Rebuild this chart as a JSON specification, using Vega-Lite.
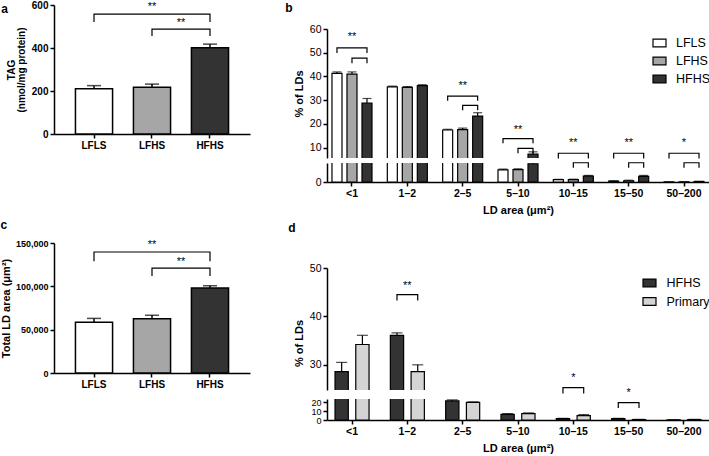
{
 "$schema": "https://vega.github.io/schema/vega-lite/v6.json",
 "padding": {"left": 0, "top": 0, "right": 0, "bottom": 0},
 "config": {
  "font": "Liberation Sans",
  "view": {"stroke": null},
  "axis": {"domainColor": "#000", "domainWidth": 1.5, "tickColor": "#000", "tickWidth": 1.5, "tickSize": 4, "labelColor": "#000", "titleColor": "#000", "grid": false, "labelPadding": 2, "labelOverlap": false},
  "title": {"color": "#000"},
  "legend": {"labelColor": "#000"}
 },
 "datasets": {
  "a": [{"g": "LFLS", "v": 211, "hi": 225}, {"g": "LFHS", "v": 217, "hi": 232}, {"g": "HFHS", "v": 401, "hi": 418}],
  "a_br": [
   {"id": 1, "o": 1, "g": "LFLS", "v": 521}, {"id": 1, "o": 2, "g": "LFLS", "v": 558}, {"id": 1, "o": 3, "g": "HFHS", "v": 558}, {"id": 1, "o": 4, "g": "HFHS", "v": 521},
   {"id": 2, "o": 1, "g": "LFHS", "v": 456}, {"id": 2, "o": 2, "g": "LFHS", "v": 488}, {"id": 2, "o": 3, "g": "HFHS", "v": 488}, {"id": 2, "o": 4, "g": "HFHS", "v": 456}
  ],
  "a_st1": [{"g": "LFHS", "v": 590, "t": "**"}],
  "a_st2": [{"g": "HFHS", "v": 517, "t": "**"}],
  "c": [{"g": "LFLS", "v": 58500, "hi": 63000}, {"g": "LFHS", "v": 62700, "hi": 66600}, {"g": "HFHS", "v": 98000, "hi": 100700}],
  "c_br": [
   {"id": 1, "o": 1, "g": "LFLS", "v": 129000}, {"id": 1, "o": 2, "g": "LFLS", "v": 139600}, {"id": 1, "o": 3, "g": "HFHS", "v": 139600}, {"id": 1, "o": 4, "g": "HFHS", "v": 129000},
   {"id": 2, "o": 1, "g": "LFHS", "v": 112000}, {"id": 2, "o": 2, "g": "LFHS", "v": 121000}, {"id": 2, "o": 3, "g": "HFHS", "v": 121000}, {"id": 2, "o": 4, "g": "HFHS", "v": 112000}
  ],
  "c_st1": [{"g": "LFHS", "v": 147500, "t": "**"}],
  "c_st2": [{"g": "HFHS", "v": 128500, "t": "**"}],
  "b": [
   {"cat": "<1", "grp": "LFLS", "v": 41.3, "hi": 41.9}, {"cat": "<1", "grp": "LFHS", "v": 41.0, "hi": 41.9}, {"cat": "<1", "grp": "HFHS", "v": 28.8, "hi": 30.7},
   {"cat": "1–2", "grp": "LFLS", "v": 35.6, "hi": 35.9}, {"cat": "1–2", "grp": "LFHS", "v": 35.4, "hi": 35.7}, {"cat": "1–2", "grp": "HFHS", "v": 36.1, "hi": 36.5},
   {"cat": "2–5", "grp": "LFLS", "v": 17.4, "hi": 17.7}, {"cat": "2–5", "grp": "LFHS", "v": 17.6, "hi": 18.2}, {"cat": "2–5", "grp": "HFHS", "v": 23.3, "hi": 24.7},
   {"cat": "5–10", "grp": "LFLS", "v": 4.8, "hi": 5.1}, {"cat": "5–10", "grp": "LFHS", "v": 4.9, "hi": 5.2}, {"cat": "5–10", "grp": "HFHS", "v": 7.2, "hi": 8.2},
   {"cat": "10–15", "grp": "LFLS", "v": 0.9, "hi": 1.05}, {"cat": "10–15", "grp": "LFHS", "v": 0.9, "hi": 1.1}, {"cat": "10–15", "grp": "HFHS", "v": 2.3, "hi": 2.6},
   {"cat": "15–50", "grp": "LFLS", "v": 0.35, "hi": 0.45}, {"cat": "15–50", "grp": "LFHS", "v": 0.5, "hi": 0.7}, {"cat": "15–50", "grp": "HFHS", "v": 2.2, "hi": 2.6},
   {"cat": "50–200", "grp": "LFLS", "v": 0.02, "hi": 0.03}, {"cat": "50–200", "grp": "LFHS", "v": 0.03, "hi": 0.04}, {"cat": "50–200", "grp": "HFHS", "v": 0.2, "hi": 0.25}
  ],
  "b_br": [
   {"id": 1, "o": 1, "cat": "<1", "grp": "LFLS", "v": 49.9}, {"id": 1, "o": 2, "cat": "<1", "grp": "LFLS", "v": 52.0}, {"id": 1, "o": 3, "cat": "<1", "grp": "HFHS", "v": 52.0}, {"id": 1, "o": 4, "cat": "<1", "grp": "HFHS", "v": 49.9},
   {"id": 2, "o": 1, "cat": "<1", "grp": "LFHS", "v": 45.6}, {"id": 2, "o": 2, "cat": "<1", "grp": "LFHS", "v": 47.7}, {"id": 2, "o": 3, "cat": "<1", "grp": "HFHS", "v": 47.7}, {"id": 2, "o": 4, "cat": "<1", "grp": "HFHS", "v": 45.6},
   {"id": 3, "o": 1, "cat": "2–5", "grp": "LFLS", "v": 29.7}, {"id": 3, "o": 2, "cat": "2–5", "grp": "LFLS", "v": 31.7}, {"id": 3, "o": 3, "cat": "2–5", "grp": "HFHS", "v": 31.7}, {"id": 3, "o": 4, "cat": "2–5", "grp": "HFHS", "v": 29.7},
   {"id": 4, "o": 1, "cat": "2–5", "grp": "LFHS", "v": 25.7}, {"id": 4, "o": 2, "cat": "2–5", "grp": "LFHS", "v": 27.8}, {"id": 4, "o": 3, "cat": "2–5", "grp": "HFHS", "v": 27.8}, {"id": 4, "o": 4, "cat": "2–5", "grp": "HFHS", "v": 25.7},
   {"id": 5, "o": 1, "cat": "5–10", "grp": "LFLS", "v": 11.8}, {"id": 5, "o": 2, "cat": "5–10", "grp": "LFLS", "v": 13.8}, {"id": 5, "o": 3, "cat": "5–10", "grp": "HFHS", "v": 13.8}, {"id": 5, "o": 4, "cat": "5–10", "grp": "HFHS", "v": 11.8},
   {"id": 6, "o": 1, "cat": "5–10", "grp": "LFHS", "v": 7.6}, {"id": 6, "o": 2, "cat": "5–10", "grp": "LFHS", "v": 9.7}, {"id": 6, "o": 3, "cat": "5–10", "grp": "HFHS", "v": 9.7}, {"id": 6, "o": 4, "cat": "5–10", "grp": "HFHS", "v": 7.6},
   {"id": 7, "o": 1, "cat": "10–15", "grp": "LFLS", "v": 5.4}, {"id": 7, "o": 2, "cat": "10–15", "grp": "LFLS", "v": 7.6}, {"id": 7, "o": 3, "cat": "10–15", "grp": "HFHS", "v": 7.6}, {"id": 7, "o": 4, "cat": "10–15", "grp": "HFHS", "v": 5.4},
   {"id": 8, "o": 1, "cat": "10–15", "grp": "LFHS", "v": 1.5}, {"id": 8, "o": 2, "cat": "10–15", "grp": "LFHS", "v": 3.6}, {"id": 8, "o": 3, "cat": "10–15", "grp": "HFHS", "v": 3.6}, {"id": 8, "o": 4, "cat": "10–15", "grp": "HFHS", "v": 1.5},
   {"id": 9, "o": 1, "cat": "15–50", "grp": "LFLS", "v": 5.4}, {"id": 9, "o": 2, "cat": "15–50", "grp": "LFLS", "v": 7.6}, {"id": 9, "o": 3, "cat": "15–50", "grp": "HFHS", "v": 7.6}, {"id": 9, "o": 4, "cat": "15–50", "grp": "HFHS", "v": 5.4},
   {"id": 10, "o": 1, "cat": "15–50", "grp": "LFHS", "v": 1.5}, {"id": 10, "o": 2, "cat": "15–50", "grp": "LFHS", "v": 3.6}, {"id": 10, "o": 3, "cat": "15–50", "grp": "HFHS", "v": 3.6}, {"id": 10, "o": 4, "cat": "15–50", "grp": "HFHS", "v": 1.5},
   {"id": 11, "o": 1, "cat": "50–200", "grp": "LFLS", "v": 5.4}, {"id": 11, "o": 2, "cat": "50–200", "grp": "LFLS", "v": 7.6}, {"id": 11, "o": 3, "cat": "50–200", "grp": "HFHS", "v": 7.6}, {"id": 11, "o": 4, "cat": "50–200", "grp": "HFHS", "v": 5.4},
   {"id": 12, "o": 1, "cat": "50–200", "grp": "LFHS", "v": 1.5}, {"id": 12, "o": 2, "cat": "50–200", "grp": "LFHS", "v": 3.6}, {"id": 12, "o": 3, "cat": "50–200", "grp": "HFHS", "v": 3.6}, {"id": 12, "o": 4, "cat": "50–200", "grp": "HFHS", "v": 1.5}
  ],
  "b_st": [
   {"cat": "<1", "v": 56.5, "t": "**"}, {"cat": "2–5", "v": 36.1, "t": "**"}, {"cat": "5–10", "v": 17.6, "t": "**"},
   {"cat": "10–15", "v": 11.9, "t": "**"}, {"cat": "15–50", "v": 11.9, "t": "**"}, {"cat": "50–200", "v": 11.9, "t": "*"}
  ],
  "d": [
   {"cat": "<1", "grp": "HFHS", "v": 28.6, "hi": 30.5}, {"cat": "<1", "grp": "Primary", "v": 34.2, "hi": 36.1},
   {"cat": "1–2", "grp": "HFHS", "v": 36.1, "hi": 36.6}, {"cat": "1–2", "grp": "Primary", "v": 28.6, "hi": 30.0},
   {"cat": "2–5", "grp": "HFHS", "v": 21.8, "hi": 23.0}, {"cat": "2–5", "grp": "Primary", "v": 20.2, "hi": 20.7},
   {"cat": "5–10", "grp": "HFHS", "v": 6.5, "hi": 7.3}, {"cat": "5–10", "grp": "Primary", "v": 7.2, "hi": 8.1},
   {"cat": "10–15", "grp": "HFHS", "v": 1.5, "hi": 1.9}, {"cat": "10–15", "grp": "Primary", "v": 5.0, "hi": 6.2},
   {"cat": "15–50", "grp": "HFHS", "v": 1.5, "hi": 1.9}, {"cat": "15–50", "grp": "Primary", "v": 0.5, "hi": 0.7},
   {"cat": "50–200", "grp": "HFHS", "v": 0.1, "hi": 0.15}, {"cat": "50–200", "grp": "Primary", "v": 0.5, "hi": 0.7}
  ],
  "d_br": [
   {"id": 1, "o": 1, "cat": "1–2", "grp": "HFHS", "v": 43.3}, {"id": 1, "o": 2, "cat": "1–2", "grp": "HFHS", "v": 44.5}, {"id": 1, "o": 3, "cat": "1–2", "grp": "Primary", "v": 44.5}, {"id": 1, "o": 4, "cat": "1–2", "grp": "Primary", "v": 43.3},
   {"id": 2, "o": 1, "cat": "10–15", "grp": "HFHS", "v": 24.1}, {"id": 2, "o": 2, "cat": "10–15", "grp": "HFHS", "v": 25.3}, {"id": 2, "o": 3, "cat": "10–15", "grp": "Primary", "v": 25.3}, {"id": 2, "o": 4, "cat": "10–15", "grp": "Primary", "v": 24.1},
   {"id": 3, "o": 1, "cat": "15–50", "grp": "HFHS", "v": 21.1}, {"id": 3, "o": 2, "cat": "15–50", "grp": "HFHS", "v": 22.2}, {"id": 3, "o": 3, "cat": "15–50", "grp": "Primary", "v": 22.2}, {"id": 3, "o": 4, "cat": "15–50", "grp": "Primary", "v": 21.1}
  ],
  "d_st": [{"cat": "1–2", "v": 46.2, "t": "**"}, {"cat": "10–15", "v": 27.3, "t": "*"}, {"cat": "15–50", "v": 24.1, "t": "*"}],
  "spacer": [{"k": 1}]
 },
 "resolve": {"scale": {"fill": "independent", "xOffset": "independent"}, "legend": {"fill": "independent"}},
 "spacing": 35,
 "hconcat": [
  {
   "spacing": 69,
   "resolve": {"scale": {"fill": "independent", "xOffset": "independent"}, "legend": {"fill": "independent"}},
   "vconcat": [
    {
     "title": {"text": "a", "anchor": "start", "frame": "bounds", "offset": 0, "dx": -5, "dy": 16, "fontSize": 12, "fontWeight": "bold"},
     "width": 196, "height": 129,
     "layer": [
      {"data": {"name": "a"}, "mark": {"type": "bar", "stroke": "#000", "strokeWidth": 1.5},
       "encoding": {
        "x": {"field": "g", "type": "nominal", "sort": null, "scale": {"domain": ["LFLS", "LFHS", "HFHS"], "paddingInner": 0.36, "paddingOuter": 0.37}, "axis": {"title": null, "labelAngle": 0, "labelFontWeight": "bold", "labelFontSize": 10}},
        "y": {"field": "v", "type": "quantitative", "scale": {"domain": [0, 600], "nice": false}, "axis": {"values": [0, 200, 400, 600], "title": ["TAG", "(nmol/mg protein)"], "labelFontWeight": "bold", "labelFontSize": 10, "titleFontSize": 10, "titleFontWeight": "bold", "titleLineHeight": 10, "titlePadding": 5}},
        "fill": {"field": "g", "type": "nominal", "scale": {"domain": ["LFLS", "LFHS", "HFHS"], "range": ["#ffffff", "#a6a6a6", "#333333"]}, "legend": null}
       }},
      {"data": {"name": "a"}, "mark": {"type": "rule", "color": "#000", "strokeWidth": 1.5},
       "encoding": {"x": {"field": "g", "type": "nominal", "sort": null}, "y": {"field": "v", "type": "quantitative", "axis": {"values": [0, 200, 400, 600], "title": ["TAG", "(nmol/mg protein)"], "labelFontWeight": "bold", "labelFontSize": 10, "titleFontSize": 10, "titleFontWeight": "bold", "titleLineHeight": 10, "titlePadding": 5}}, "y2": {"field": "hi"}}},
      {"data": {"name": "a"}, "mark": {"type": "tick", "color": "#000", "size": 14, "thickness": 1.5},
       "encoding": {"x": {"field": "g", "type": "nominal", "sort": null}, "y": {"field": "hi", "type": "quantitative", "axis": {"values": [0, 200, 400, 600], "title": ["TAG", "(nmol/mg protein)"], "labelFontWeight": "bold", "labelFontSize": 10, "titleFontSize": 10, "titleFontWeight": "bold", "titleLineHeight": 10, "titlePadding": 5}}}},
      {"data": {"name": "a_br"}, "mark": {"type": "line", "color": "#000", "strokeWidth": 1.2},
       "encoding": {"x": {"field": "g", "type": "nominal", "sort": null}, "y": {"field": "v", "type": "quantitative", "axis": {"values": [0, 200, 400, 600], "title": ["TAG", "(nmol/mg protein)"], "labelFontWeight": "bold", "labelFontSize": 10, "titleFontSize": 10, "titleFontWeight": "bold", "titleLineHeight": 10, "titlePadding": 5}}, "detail": {"field": "id"}, "order": {"field": "o"}}},
      {"data": {"name": "a_st1"}, "mark": {"type": "text", "fill": "#000", "fontSize": 11, "baseline": "middle"},
       "encoding": {"x": {"field": "g", "type": "nominal", "sort": null}, "y": {"field": "v", "type": "quantitative"}, "text": {"field": "t"}}},
      {"data": {"name": "a_st2"}, "mark": {"type": "text", "fill": "#000", "fontSize": 11, "baseline": "middle", "dx": -29},
       "encoding": {"x": {"field": "g", "type": "nominal", "sort": null}, "y": {"field": "v", "type": "quantitative"}, "text": {"field": "t"}}}
     ]
    },
    {
     "title": {"text": "c", "anchor": "start", "frame": "bounds", "offset": 7, "dx": 0, "fontSize": 12, "fontWeight": "bold"},
     "width": 196, "height": 130,
     "layer": [
      {"data": {"name": "c"}, "mark": {"type": "bar", "stroke": "#000", "strokeWidth": 1.5},
       "encoding": {
        "x": {"field": "g", "type": "nominal", "sort": null, "scale": {"domain": ["LFLS", "LFHS", "HFHS"], "paddingInner": 0.36, "paddingOuter": 0.37}, "axis": {"title": null, "labelAngle": 0, "labelFontWeight": "bold", "labelFontSize": 10}},
        "y": {"field": "v", "type": "quantitative", "scale": {"domain": [0, 150000], "nice": false}, "axis": {"values": [0, 50000, 100000, 150000], "labelExpr": "format(datum.value, ',')", "title": "Total LD area (μm²)", "labelFontWeight": "bold", "labelFontSize": 9, "titleFontSize": 11, "titleFontWeight": "bold", "titlePadding": 4}},
        "fill": {"field": "g", "type": "nominal", "scale": {"domain": ["LFLS", "LFHS", "HFHS"], "range": ["#ffffff", "#a6a6a6", "#333333"]}, "legend": null}
       }},
      {"data": {"name": "c"}, "mark": {"type": "rule", "color": "#000", "strokeWidth": 1.5},
       "encoding": {"x": {"field": "g", "type": "nominal", "sort": null}, "y": {"field": "v", "type": "quantitative", "axis": {"values": [0, 50000, 100000, 150000], "labelExpr": "format(datum.value, ',')", "title": "Total LD area (μm²)", "labelFontWeight": "bold", "labelFontSize": 9, "titleFontSize": 11, "titleFontWeight": "bold", "titlePadding": 4}}, "y2": {"field": "hi"}}},
      {"data": {"name": "c"}, "mark": {"type": "tick", "color": "#000", "size": 14, "thickness": 1.5},
       "encoding": {"x": {"field": "g", "type": "nominal", "sort": null}, "y": {"field": "hi", "type": "quantitative", "axis": {"values": [0, 50000, 100000, 150000], "labelExpr": "format(datum.value, ',')", "title": "Total LD area (μm²)", "labelFontWeight": "bold", "labelFontSize": 9, "titleFontSize": 11, "titleFontWeight": "bold", "titlePadding": 4}}}},
      {"data": {"name": "c_br"}, "mark": {"type": "line", "color": "#000", "strokeWidth": 1.2},
       "encoding": {"x": {"field": "g", "type": "nominal", "sort": null}, "y": {"field": "v", "type": "quantitative", "axis": {"values": [0, 50000, 100000, 150000], "labelExpr": "format(datum.value, ',')", "title": "Total LD area (μm²)", "labelFontWeight": "bold", "labelFontSize": 9, "titleFontSize": 11, "titleFontWeight": "bold", "titlePadding": 4}}, "detail": {"field": "id"}, "order": {"field": "o"}}},
      {"data": {"name": "c_st1"}, "mark": {"type": "text", "fill": "#000", "fontSize": 11, "baseline": "middle"},
       "encoding": {"x": {"field": "g", "type": "nominal", "sort": null}, "y": {"field": "v", "type": "quantitative", "axis": {"values": [0, 50000, 100000, 150000], "labelExpr": "format(datum.value, ',')", "title": "Total LD area (μm²)", "labelFontWeight": "bold", "labelFontSize": 9, "titleFontSize": 11, "titleFontWeight": "bold", "titlePadding": 4}}, "text": {"field": "t"}}},
      {"data": {"name": "c_st2"}, "mark": {"type": "text", "fill": "#000", "fontSize": 11, "baseline": "middle", "dx": -29},
       "encoding": {"x": {"field": "g", "type": "nominal", "sort": null}, "y": {"field": "v", "type": "quantitative", "axis": {"values": [0, 50000, 100000, 150000], "labelExpr": "format(datum.value, ',')", "title": "Total LD area (μm²)", "labelFontWeight": "bold", "labelFontSize": 9, "titleFontSize": 11, "titleFontWeight": "bold", "titlePadding": 4}}, "text": {"field": "t"}}}
     ]
    }
   ]
  },
  {
   "spacing": 6,
   "resolve": {"scale": {"fill": "independent", "xOffset": "independent"}, "legend": {"fill": "independent"}},
   "vconcat": [
    {
     "title": {"text": "b", "anchor": "start", "frame": "bounds", "offset": 0, "dx": -8, "dy": 10, "fontSize": 12, "fontWeight": "bold"},
     "bounds": "flush",
     "spacing": 5,
     "resolve": {"scale": {"fill": "independent", "xOffset": "independent"}, "legend": {"fill": "independent"}},
     "vconcat": [
      {"width": 382, "height": 19, "data": {"name": "spacer"}, "mark": {"type": "point", "opacity": 0}},
      {
       "width": 382, "height": 129,
       "layer": [
        {"data": {"name": "b"}, "mark": {"type": "bar", "clip": true, "stroke": "#000", "strokeWidth": 1.2},
         "encoding": {
          "x": {"field": "cat", "type": "nominal", "sort": null, "scale": {"domain": ["<1", "1–2", "2–5", "5–10", "10–15", "15–50", "50–200"], "paddingInner": 0.277, "paddingOuter": 0.09}, "axis": null},
          "xOffset": {"field": "grp", "type": "nominal", "sort": null, "scale": {"domain": ["LFLS", "LFHS", "HFHS"], "paddingInner": 0.333, "paddingOuter": 0}},
          "y": {"field": "v", "type": "quantitative", "scale": {"domain": [5.6, 60], "nice": false, "zero": false}, "axis": {"values": [10, 20, 30, 40, 50, 60], "title": "% of LDs", "labelFontSize": 10.5, "titleFontSize": 11, "titleFontWeight": "bold", "titlePadding": 5}},
          "y2": {"datum": 0},
          "fill": {"field": "grp", "type": "nominal", "scale": {"domain": ["LFLS", "LFHS", "HFHS"], "range": ["#ffffff", "#a6a6a6", "#333333"]},
           "legend": {"title": null, "orient": "none", "legendX": 325, "legendY": 6.5, "padding": 0, "symbolType": "M-1,-0.6H1V0.6H-1Z", "symbolSize": 169, "symbolStrokeColor": "#000", "symbolStrokeWidth": 1.2, "labelFontSize": 12.5, "labelOffset": 9, "rowPadding": 4}}
         }},
        {"data": {"name": "b"}, "mark": {"type": "rule", "clip": true, "color": "#000", "strokeWidth": 1.2},
         "encoding": {"x": {"field": "cat", "type": "nominal", "sort": null}, "xOffset": {"field": "grp", "type": "nominal", "sort": null}, "y": {"field": "v", "type": "quantitative", "axis": {"values": [10, 20, 30, 40, 50, 60], "title": "% of LDs", "labelFontSize": 10.5, "titleFontSize": 11, "titleFontWeight": "bold", "titlePadding": 5}}, "y2": {"field": "hi"}}},
        {"data": {"name": "b"}, "mark": {"type": "tick", "clip": true, "color": "#000", "size": 9, "thickness": 1.2},
         "encoding": {"x": {"field": "cat", "type": "nominal", "sort": null}, "xOffset": {"field": "grp", "type": "nominal", "sort": null}, "y": {"field": "hi", "type": "quantitative", "axis": {"values": [10, 20, 30, 40, 50, 60], "title": "% of LDs", "labelFontSize": 10.5, "titleFontSize": 11, "titleFontWeight": "bold", "titlePadding": 5}}}},
        {"data": {"name": "b_br"}, "mark": {"type": "line", "color": "#000", "strokeWidth": 1.2},
         "encoding": {"x": {"field": "cat", "type": "nominal", "sort": null}, "xOffset": {"field": "grp", "type": "nominal", "sort": null}, "y": {"field": "v", "type": "quantitative", "axis": {"values": [10, 20, 30, 40, 50, 60], "title": "% of LDs", "labelFontSize": 10.5, "titleFontSize": 11, "titleFontWeight": "bold", "titlePadding": 5}}, "detail": {"field": "id"}, "order": {"field": "o"}}},
        {"data": {"name": "b_st"}, "mark": {"type": "text", "fill": "#000", "fontSize": 11, "baseline": "middle"},
         "encoding": {"x": {"field": "cat", "type": "nominal", "sort": null}, "y": {"field": "v", "type": "quantitative", "axis": {"values": [10, 20, 30, 40, 50, 60], "title": "% of LDs", "labelFontSize": 10.5, "titleFontSize": 11, "titleFontWeight": "bold", "titlePadding": 5}}, "text": {"field": "t"}}}
       ]
      },
      {
       "width": 382, "height": 19,
       "layer": [
        {"data": {"name": "b"}, "mark": {"type": "bar", "clip": true, "stroke": "#000", "strokeWidth": 1.2},
         "encoding": {
          "x": {"field": "cat", "type": "nominal", "sort": null, "scale": {"domain": ["<1", "1–2", "2–5", "5–10", "10–15", "15–50", "50–200"], "paddingInner": 0.277, "paddingOuter": 0.09}, "axis": {"title": "LD area (μm²)", "labelAngle": 0, "labelFontWeight": "bold", "labelFontSize": 10.5, "titleFontSize": 11, "titleFontWeight": "bold", "titlePadding": 6}},
          "xOffset": {"field": "grp", "type": "nominal", "sort": null, "scale": {"domain": ["LFLS", "LFHS", "HFHS"], "paddingInner": 0.333, "paddingOuter": 0}},
          "y": {"field": "v", "type": "quantitative", "scale": {"domain": [0, 7.5], "nice": false}, "axis": {"values": [0], "title": null, "labelFontSize": 10.5}},
          "fill": {"field": "grp", "type": "nominal", "scale": {"domain": ["LFLS", "LFHS", "HFHS"], "range": ["#ffffff", "#a6a6a6", "#333333"]}, "legend": null}
         }},
        {"data": {"name": "b"}, "mark": {"type": "rule", "clip": true, "color": "#000", "strokeWidth": 1.2},
         "encoding": {"x": {"field": "cat", "type": "nominal", "sort": null}, "xOffset": {"field": "grp", "type": "nominal", "sort": null}, "y": {"field": "v", "type": "quantitative", "axis": {"values": [0], "title": null, "labelFontSize": 10.5}}, "y2": {"field": "hi"}}},
        {"data": {"name": "b"}, "mark": {"type": "tick", "clip": true, "color": "#000", "size": 9, "thickness": 1.2},
         "encoding": {"x": {"field": "cat", "type": "nominal", "sort": null}, "xOffset": {"field": "grp", "type": "nominal", "sort": null}, "y": {"field": "hi", "type": "quantitative", "axis": {"values": [0], "title": null, "labelFontSize": 10.5}}}}
       ]
      }
     ]
    },
    {
     "title": {"text": "d", "anchor": "start", "frame": "bounds", "offset": 28, "dx": -5, "fontSize": 12, "fontWeight": "bold"},
     "bounds": "flush",
     "spacing": 9,
     "resolve": {"scale": {"fill": "independent", "xOffset": "independent"}, "legend": {"fill": "independent"}},
     "vconcat": [
      {
       "width": 382, "height": 122,
       "layer": [
        {"data": {"name": "d"}, "mark": {"type": "bar", "clip": true, "stroke": "#000", "strokeWidth": 1.2},
         "encoding": {
          "x": {"field": "cat", "type": "nominal", "sort": null, "scale": {"domain": ["<1", "1–2", "2–5", "5–10", "10–15", "15–50", "50–200"], "paddingInner": 0.385, "paddingOuter": 0.145}, "axis": null},
          "xOffset": {"field": "grp", "type": "nominal", "sort": null, "scale": {"domain": ["HFHS", "Primary"], "paddingInner": 0.36, "paddingOuter": 0}},
          "y": {"field": "v", "type": "quantitative", "scale": {"domain": [24.8, 50], "nice": false, "zero": false}, "axis": {"values": [30, 40, 50], "title": "% of LDs", "labelFontSize": 10.5, "titleFontSize": 11, "titleFontWeight": "bold", "titlePadding": 5, "titleY": 75}},
          "y2": {"datum": 0},
          "fill": {"field": "grp", "type": "nominal", "scale": {"domain": ["HFHS", "Primary"], "range": ["#333333", "#d4d4d4"]},
           "legend": {"title": null, "orient": "none", "legendX": 315, "legendY": 7.5, "padding": 0, "symbolType": "M-1,-0.6H1V0.6H-1Z", "symbolSize": 169, "symbolStrokeColor": "#000", "symbolStrokeWidth": 1.2, "labelFontSize": 12.5, "labelOffset": 9.5, "rowPadding": 4.5}}
         }},
        {"data": {"name": "d"}, "mark": {"type": "rule", "clip": true, "color": "#000", "strokeWidth": 1.2},
         "encoding": {"x": {"field": "cat", "type": "nominal", "sort": null}, "xOffset": {"field": "grp", "type": "nominal", "sort": null}, "y": {"field": "v", "type": "quantitative", "axis": {"values": [30, 40, 50], "title": "% of LDs", "labelFontSize": 10.5, "titleFontSize": 11, "titleFontWeight": "bold", "titlePadding": 5, "titleY": 75}}, "y2": {"field": "hi"}}},
        {"data": {"name": "d"}, "mark": {"type": "tick", "clip": true, "color": "#000", "size": 11, "thickness": 1.2},
         "encoding": {"x": {"field": "cat", "type": "nominal", "sort": null}, "xOffset": {"field": "grp", "type": "nominal", "sort": null}, "y": {"field": "hi", "type": "quantitative", "axis": {"values": [30, 40, 50], "title": "% of LDs", "labelFontSize": 10.5, "titleFontSize": 11, "titleFontWeight": "bold", "titlePadding": 5, "titleY": 75}}}},
        {"data": {"name": "d_br"}, "mark": {"type": "line", "color": "#000", "strokeWidth": 1.2},
         "encoding": {"x": {"field": "cat", "type": "nominal", "sort": null}, "xOffset": {"field": "grp", "type": "nominal", "sort": null}, "y": {"field": "v", "type": "quantitative", "axis": {"values": [30, 40, 50], "title": "% of LDs", "labelFontSize": 10.5, "titleFontSize": 11, "titleFontWeight": "bold", "titlePadding": 5, "titleY": 75}}, "detail": {"field": "id"}, "order": {"field": "o"}}},
        {"data": {"name": "d_st"}, "mark": {"type": "text", "fill": "#000", "fontSize": 11, "baseline": "middle"},
         "encoding": {"x": {"field": "cat", "type": "nominal", "sort": null}, "y": {"field": "v", "type": "quantitative", "axis": {"values": [30, 40, 50], "title": "% of LDs", "labelFontSize": 10.5, "titleFontSize": 11, "titleFontWeight": "bold", "titlePadding": 5, "titleY": 75}}, "text": {"field": "t"}}}
       ]
      },
      {
       "width": 382, "height": 21,
       "layer": [
        {"data": {"name": "d"}, "mark": {"type": "bar", "clip": true, "stroke": "#000", "strokeWidth": 1.2},
         "encoding": {
          "x": {"field": "cat", "type": "nominal", "sort": null, "scale": {"domain": ["<1", "1–2", "2–5", "5–10", "10–15", "15–50", "50–200"], "paddingInner": 0.385, "paddingOuter": 0.145}, "axis": {"title": "LD area (μm²)", "labelAngle": 0, "labelFontWeight": "bold", "labelFontSize": 10.5, "titleFontSize": 11, "titleFontWeight": "bold", "titlePadding": 6}},
          "xOffset": {"field": "grp", "type": "nominal", "sort": null, "scale": {"domain": ["HFHS", "Primary"], "paddingInner": 0.36, "paddingOuter": 0}},
          "y": {"field": "v", "type": "quantitative", "scale": {"domain": [0, 24], "nice": false}, "axis": {"values": [0, 10, 20], "title": null, "labelFontSize": 9}},
          "fill": {"field": "grp", "type": "nominal", "scale": {"domain": ["HFHS", "Primary"], "range": ["#333333", "#d4d4d4"]}, "legend": null}
         }},
        {"data": {"name": "d"}, "mark": {"type": "rule", "clip": true, "color": "#000", "strokeWidth": 1.2},
         "encoding": {"x": {"field": "cat", "type": "nominal", "sort": null}, "xOffset": {"field": "grp", "type": "nominal", "sort": null}, "y": {"field": "v", "type": "quantitative", "axis": {"values": [0, 10, 20], "title": null, "labelFontSize": 9}}, "y2": {"field": "hi"}}},
        {"data": {"name": "d"}, "mark": {"type": "tick", "clip": true, "color": "#000", "size": 11, "thickness": 1.2},
         "encoding": {"x": {"field": "cat", "type": "nominal", "sort": null}, "xOffset": {"field": "grp", "type": "nominal", "sort": null}, "y": {"field": "hi", "type": "quantitative", "axis": {"values": [0, 10, 20], "title": null, "labelFontSize": 9}}}}
       ]
      }
     ]
    }
   ]
  }
 ]
}
